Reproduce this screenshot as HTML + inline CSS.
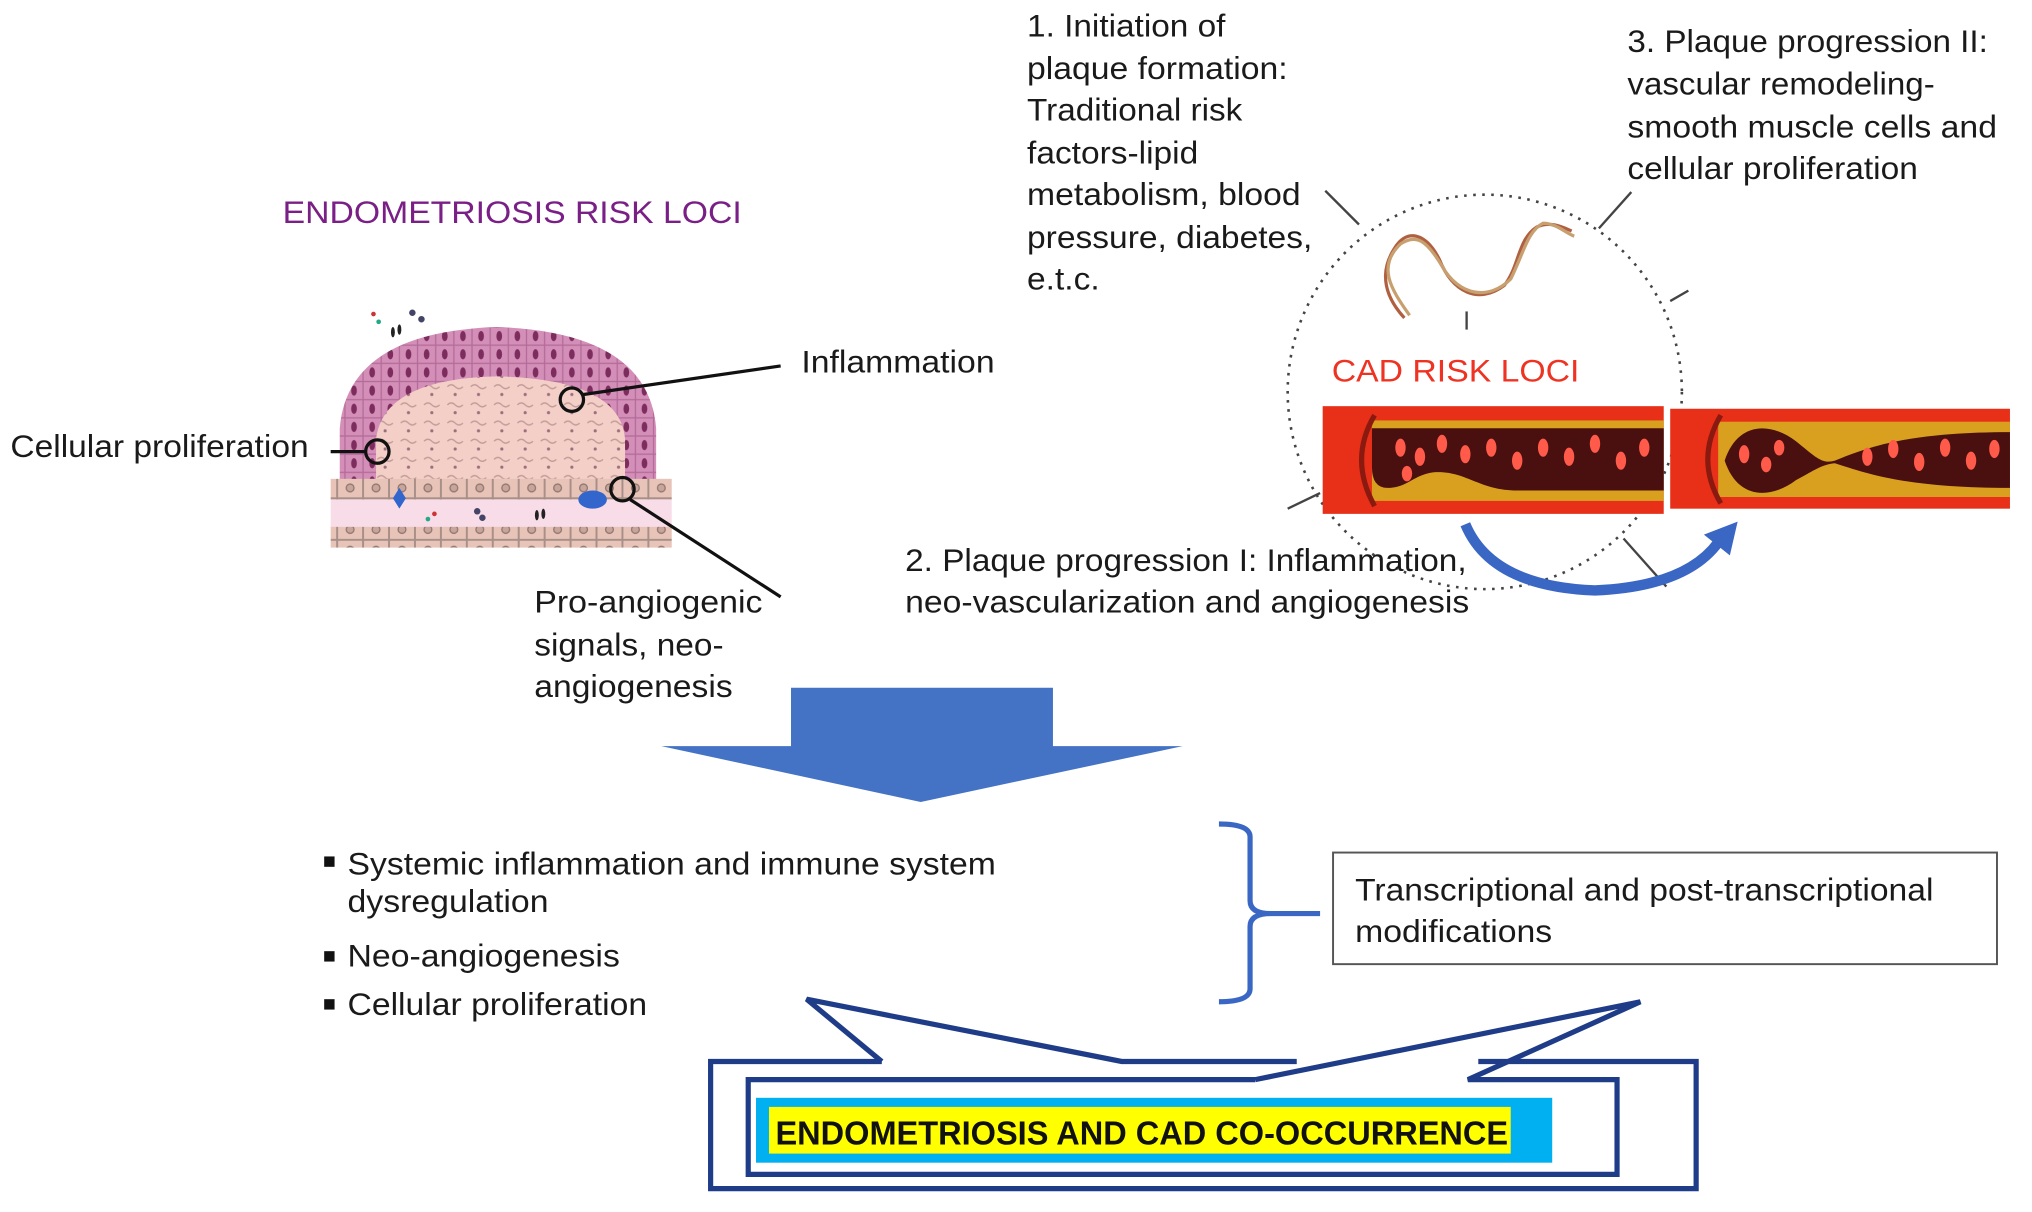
<!DOCTYPE html>
<html><head><meta charset="utf-8"><style>
html,body{margin:0;padding:0;background:#fff;}
svg{display:block;}
text{font-family:"Liberation Sans",sans-serif;font-size:24px;fill:#1a1a1a;}
</style></head><body>
<svg width="2032" height="1212" viewBox="0 0 1567 934" preserveAspectRatio="none" xmlns="http://www.w3.org/2000/svg">
<defs>
<pattern id="cells" width="20" height="16" patternUnits="userSpaceOnUse">
<rect width="20" height="16" fill="#e8c4b8" stroke="#a78f88" stroke-width="1.5"/>
<circle cx="10" cy="8" r="3" fill="#c9a49a" stroke="#8f7770"/>
</pattern>
<pattern id="epi" width="14" height="14" patternUnits="userSpaceOnUse">
<rect width="14" height="14" fill="#d48fb8"/>
<ellipse cx="7" cy="7" rx="2.2" ry="4" fill="#7d2c5e"/>
<rect width="14" height="14" fill="none" stroke="#b46b98" stroke-width="1"/>
</pattern>
<pattern id="stroma" width="18" height="14" patternUnits="userSpaceOnUse">
<rect width="18" height="14" fill="#f3cfc8"/>
<path d="M3 4 q3 -3 6 0 q3 3 6 0" stroke="#c29a98" fill="none"/>
<circle cx="9" cy="10" r="1.2" fill="#9c6d7a"/>
</pattern>
</defs>

<text x="218" y="172" style="fill:#7a1f86" textLength="354" lengthAdjust="spacingAndGlyphs">ENDOMETRIOSIS RISK LOCI</text>
<path d="M262 372 L262 330 Q268 256 383 252 Q500 256 506 330 L506 372 Z" fill="url(#epi)"/>
<path d="M290 372 L290 338 Q296 292 383 290 Q478 292 482 338 L482 372 Z" fill="url(#stroma)"/>
<rect x="255" y="369" width="263" height="16" fill="url(#cells)"/>
<rect x="255" y="385" width="263" height="22" fill="#f8dde8"/>
<rect x="255" y="406" width="263" height="16" fill="url(#cells)"/>
<ellipse cx="457" cy="385" rx="11" ry="7" fill="#3366cc"/>
<path d="M308 376 l5 8 -5 8 -5 -8z" fill="#3366cc"/>
<g fill="#c33"><circle cx="288" cy="242" r="1.8"/><circle cx="335" cy="396" r="1.8"/></g>
<g fill="#2a8"><circle cx="292" cy="248" r="1.8"/><circle cx="330" cy="400" r="1.8"/></g>
<g fill="#446"><circle cx="318" cy="241" r="2.5"/><circle cx="325" cy="246" r="2.5"/><circle cx="368" cy="394" r="2.5"/><circle cx="372" cy="399" r="2.5"/></g>
<g fill="#222"><ellipse cx="303" cy="256" rx="1.5" ry="4"/><ellipse cx="308" cy="254" rx="1.5" ry="4"/><ellipse cx="414" cy="397" rx="1.5" ry="4"/><ellipse cx="419" cy="396" rx="1.5" ry="4"/></g>
<g fill="none" stroke="#111" stroke-width="2.5">
<circle cx="441" cy="308" r="9"/><circle cx="291" cy="348" r="9"/><circle cx="480" cy="377" r="9"/>
<line x1="450" y1="304" x2="602" y2="282"/>
<line x1="255" y1="348" x2="282" y2="348"/>
<line x1="486" y1="385" x2="602" y2="460"/>
</g>
<text x="618" y="287" textLength="149" lengthAdjust="spacingAndGlyphs">Inflammation</text>
<text x="8" y="352" textLength="230" lengthAdjust="spacingAndGlyphs">Cellular proliferation</text>
<text x="412" y="472" textLength="176" lengthAdjust="spacingAndGlyphs">Pro-angiogenic</text>
<text x="412" y="505" textLength="146" lengthAdjust="spacingAndGlyphs">signals, neo-</text>
<text x="412" y="537" textLength="153" lengthAdjust="spacingAndGlyphs">angiogenesis</text>

<text x="792" y="28" textLength="153" lengthAdjust="spacingAndGlyphs">1. Initiation of</text>
<text x="792" y="61" textLength="201" lengthAdjust="spacingAndGlyphs">plaque formation:</text>
<text x="792" y="93" textLength="166" lengthAdjust="spacingAndGlyphs">Traditional risk</text>
<text x="792" y="126" textLength="132" lengthAdjust="spacingAndGlyphs">factors-lipid</text>
<text x="792" y="158" textLength="211" lengthAdjust="spacingAndGlyphs">metabolism, blood</text>
<text x="792" y="191" textLength="220" lengthAdjust="spacingAndGlyphs">pressure, diabetes,</text>
<text x="792" y="223" textLength="56" lengthAdjust="spacingAndGlyphs">e.t.c.</text>
<text x="1255" y="40" textLength="278" lengthAdjust="spacingAndGlyphs">3. Plaque progression II:</text>
<text x="1255" y="73" textLength="237" lengthAdjust="spacingAndGlyphs">vascular remodeling-</text>
<text x="1255" y="106" textLength="285" lengthAdjust="spacingAndGlyphs">smooth muscle cells and</text>
<text x="1255" y="138" textLength="224" lengthAdjust="spacingAndGlyphs">cellular proliferation</text>

<circle cx="1145" cy="302" r="152" fill="none" stroke="#444" stroke-width="2" stroke-dasharray="2 5"/>
<g stroke="#444" stroke-width="1.8">
<line x1="1022" y1="147" x2="1048" y2="173"/>
<line x1="1233" y1="176" x2="1258" y2="148"/>
<line x1="1288" y1="232" x2="1302" y2="224"/>
<line x1="1131" y1="240" x2="1131" y2="254"/>
<line x1="993" y1="392" x2="1018" y2="380"/>
<line x1="1252" y1="415" x2="1285" y2="452"/>
</g>
<g fill="none" stroke-width="2.5">
<path d="M1083 245 C1060 220 1070 200 1075 192 C1085 175 1100 180 1110 200 C1120 225 1140 235 1160 220 C1172 205 1170 185 1185 175 C1195 170 1205 175 1212 178" stroke="#b06040"/>
<path d="M1087 243 C1072 222 1062 205 1080 188 C1092 180 1100 185 1112 205 C1125 228 1148 232 1165 215 C1175 195 1178 178 1190 172 C1200 172 1208 180 1214 182" stroke="#c8a070"/>
</g>
<text x="1027" y="294" style="fill:#ee3322" textLength="191" lengthAdjust="spacingAndGlyphs">CAD RISK LOCI</text>

<rect x="1020" y="313" width="263" height="83" fill="#e83018"/>
<rect x="1058" y="324" width="225" height="62" fill="#d9a020"/>
<path d="M1058 330 L1283 330 L1283 378 L1170 378 C1140 378 1130 362 1105 364 C1090 366 1085 376 1070 376 Q1058 376 1058 360 Z" fill="#4a0f0f"/>
<path d="M1060 320 Q1040 354 1060 390" stroke="#8a1a10" stroke-width="4" fill="none"/>
<rect x="1288" y="315" width="262" height="77" fill="#e83018"/>
<rect x="1325" y="325" width="225" height="58" fill="#d9a020"/>
<path d="M1330 355 C1340 325 1365 325 1385 340 C1400 352 1405 358 1415 355 C1440 345 1470 333 1550 333 L1550 376 C1470 376 1440 365 1415 357 C1405 358 1400 362 1385 370 C1365 385 1340 385 1330 355 Z" fill="#4a0f0f"/>
<path d="M1327 320 Q1307 354 1327 388" stroke="#8a1a10" stroke-width="4" fill="none"/>
<g fill="#ff5a4a">
<ellipse cx="1080" cy="345" rx="4" ry="7"/><ellipse cx="1095" cy="352" rx="4" ry="7"/><ellipse cx="1112" cy="342" rx="4" ry="7"/><ellipse cx="1130" cy="350" rx="4" ry="7"/><ellipse cx="1150" cy="345" rx="4" ry="7"/><ellipse cx="1170" cy="355" rx="4" ry="7"/><ellipse cx="1190" cy="345" rx="4" ry="7"/><ellipse cx="1210" cy="352" rx="4" ry="7"/><ellipse cx="1230" cy="342" rx="4" ry="7"/><ellipse cx="1250" cy="355" rx="4" ry="7"/><ellipse cx="1268" cy="345" rx="4" ry="7"/><ellipse cx="1085" cy="365" rx="4" ry="6"/>
<ellipse cx="1345" cy="350" rx="4" ry="7"/><ellipse cx="1362" cy="358" rx="4" ry="6"/><ellipse cx="1372" cy="345" rx="4" ry="6"/><ellipse cx="1440" cy="352" rx="4" ry="7"/><ellipse cx="1460" cy="346" rx="4" ry="7"/><ellipse cx="1480" cy="356" rx="4" ry="7"/><ellipse cx="1500" cy="345" rx="4" ry="7"/><ellipse cx="1520" cy="355" rx="4" ry="7"/><ellipse cx="1538" cy="346" rx="4" ry="7"/>
</g>
<path d="M1130 404 Q1150 452 1230 455 Q1300 452 1325 418" fill="none" stroke="#3a66c4" stroke-width="8"/>
<path d="M1314 412 L1340 402 L1334 428 Z" fill="#3a66c4"/>

<text x="698" y="440" textLength="433" lengthAdjust="spacingAndGlyphs">2. Plaque progression I: Inflammation,</text>
<text x="698" y="472" textLength="435" lengthAdjust="spacingAndGlyphs">neo-vascularization and angiogenesis</text>

<path d="M610 530 L812 530 L812 575 L912 575 L710 618 L510 575 L610 575 Z" fill="#4472c4"/>

<g fill="#111"><rect x="250" y="660" width="8" height="8"/><rect x="250" y="733" width="8" height="8"/><rect x="250" y="770" width="8" height="8"/></g>
<text x="268" y="674" textLength="500" lengthAdjust="spacingAndGlyphs">Systemic inflammation and immune system</text>
<text x="268" y="703" textLength="155" lengthAdjust="spacingAndGlyphs">dysregulation</text>
<text x="268" y="745" textLength="210" lengthAdjust="spacingAndGlyphs">Neo-angiogenesis</text>
<text x="268" y="782" textLength="231" lengthAdjust="spacingAndGlyphs">Cellular proliferation</text>

<path d="M940 635 Q964 635 964 645 L964 694 Q964 704 980 704 L1018 704 M980 704 Q964 704 964 714 L964 762 Q964 772 940 772" fill="none" stroke="#3a66c4" stroke-width="4"/>
<rect x="1028" y="657" width="512" height="86" fill="#fff" stroke="#555" stroke-width="1.5"/>
<text x="1045" y="694" textLength="446" lengthAdjust="spacingAndGlyphs">Transcriptional and post-transcriptional</text>
<text x="1045" y="726" textLength="152" lengthAdjust="spacingAndGlyphs">modifications</text>

<g fill="none" stroke="#1f3c88" stroke-width="4" stroke-linejoin="miter">
<path d="M680 818 L548 818 L548 916 L1308 916 L1308 818 L1140 818"/>
<path d="M680 818 L622 770 L865 818 L1000 818"/>
<path d="M968 832 L577 832 L577 905 L1247 905 L1247 832 L1132 832 L1265 772 L968 832"/>
</g>
<rect x="583" y="846" width="614" height="50" fill="#00b0f0"/>
<rect x="593" y="853" width="572" height="36" fill="#ffff00"/>
<text x="598" y="882" style="font-weight:bold;font-size:26px;fill:#111" textLength="565" lengthAdjust="spacingAndGlyphs">ENDOMETRIOSIS AND CAD CO-OCCURRENCE</text>
</svg>
</body></html>
